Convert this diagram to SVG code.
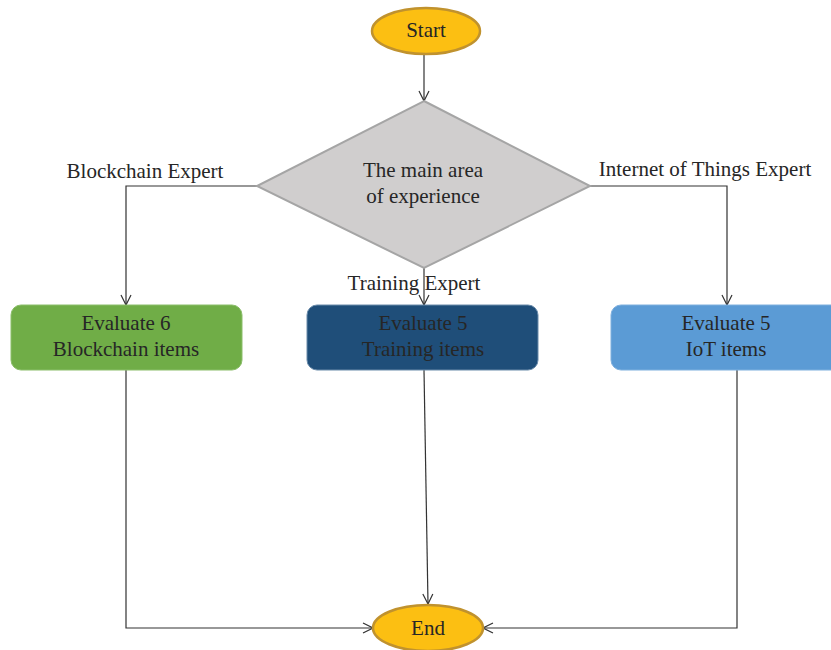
<svg xmlns="http://www.w3.org/2000/svg" width="831" height="650" viewBox="0 0 831 650">
  <style>
    text { font-family: "Liberation Serif", "DejaVu Serif", serif; font-size: 21px; fill: #262626; text-anchor: middle; }
    .conn { fill: none; stroke: #333; stroke-width: 1.2; }
    .term { fill: #FCBF12; stroke: #C0922E; stroke-width: 2.5; }
    .box { stroke-width: 1; }
  </style>
  <defs>
    <marker id="arrow" viewBox="0 0 12 12" refX="11" refY="6" markerWidth="12" markerHeight="12" markerUnits="userSpaceOnUse" orient="auto">
      <path d="M1,1 L11,6 L1,11" fill="none" stroke="#333" stroke-width="1.2"/>
    </marker>
  </defs>
  <rect width="831" height="650" fill="#fff"/>

  <g id="connectors">
    <path class="conn" d="M424,55 L424,101" marker-end="url(#arrow)"/>
    <path class="conn" d="M257,186 L126,186 L126,305" marker-end="url(#arrow)"/>
    <path class="conn" d="M424,268 L424,305" marker-end="url(#arrow)"/>
    <path class="conn" d="M590,186 L727,186 L727,305" marker-end="url(#arrow)"/>
    <path class="conn" d="M126,370 L126,628 L373,628" marker-end="url(#arrow)"/>
    <path class="conn" d="M424,370 L428,604" marker-end="url(#arrow)"/>
    <path class="conn" d="M737,370 L737,628 L483,628" marker-end="url(#arrow)"/>
    <text x="145" y="178">Blockchain Expert</text>
    <text x="705" y="176">Internet of Things Expert</text>
    <text x="414" y="290">Training Expert</text>
  </g>

  <g id="start">
    <ellipse class="term" cx="426" cy="31" rx="54" ry="23"/>
    <text x="426" y="37">Start</text>
  </g>

  <g id="decision">
    <polygon points="424,101 590,186 424,268 257,186" fill="#D0CECE" stroke="#A5A5A5" stroke-width="2"/>
    <text x="423" y="177">The main area</text>
    <text x="423" y="203">of experience</text>
  </g>

  <g id="blockchain">
    <rect class="box" x="11" y="305" width="231" height="65" rx="10" fill="#70AD47" stroke="#8BBE6A"/>
    <text x="126" y="330">Evaluate 6</text>
    <text x="126" y="356">Blockchain items</text>
  </g>

  <g id="training">
    <rect class="box" x="307" y="305" width="231" height="65" rx="10" fill="#1F4E79" stroke="#6A8BAA"/>
    <text x="423" y="330">Evaluate 5</text>
    <text x="423" y="356">Training items</text>
  </g>

  <g id="iot">
    <rect class="box" x="611" y="305" width="231" height="65" rx="10" fill="#5B9BD5" stroke="#7FB0DE"/>
    <text x="726" y="330">Evaluate 5</text>
    <text x="726" y="356">IoT items</text>
  </g>

  <g id="end">
    <ellipse class="term" cx="428" cy="628" rx="55" ry="23"/>
    <text x="428" y="635">End</text>
  </g>
</svg>
